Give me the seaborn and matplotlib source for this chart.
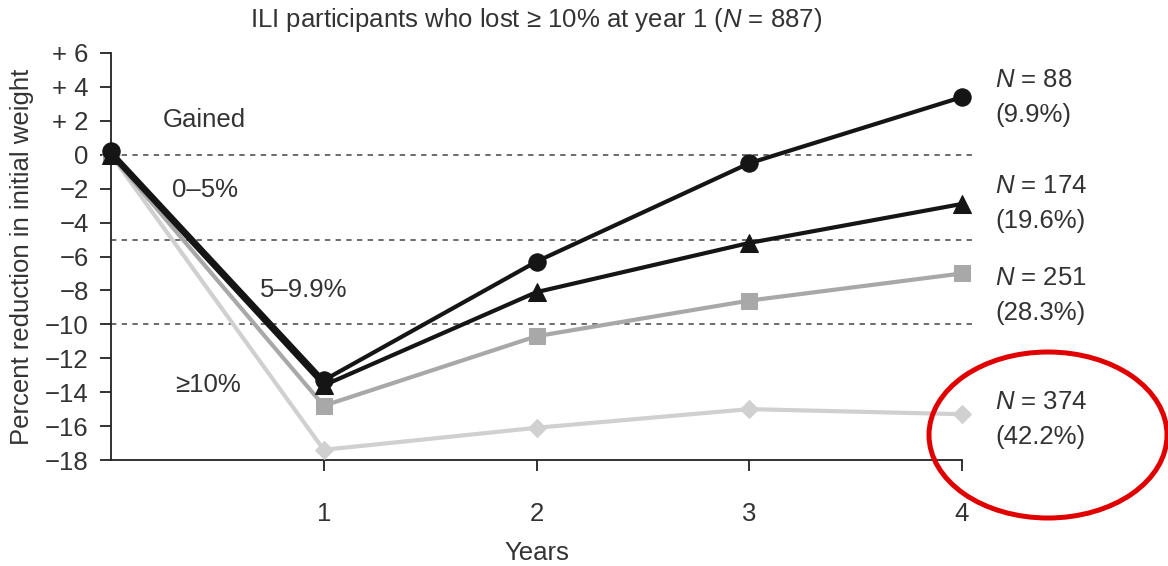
import numpy as np
import pandas as pd
import matplotlib
matplotlib.use("Agg")
import matplotlib.pyplot as plt
import seaborn as sns
from matplotlib.patches import Ellipse

# Data
years = [0, 1, 2, 3, 4]
gained = [0.2, -13.3, -6.3, -0.5, 3.4]
lost_0_5 = [0.0, -13.6, -8.1, -5.2, -2.9]
lost_5_10 = [0.0, -14.8, -10.7, -8.6, -7.0]
lost_10 = [0.0, -17.4, -16.1, -15.0, -15.3]

group_names = ["Gained", "0-5%", "5-9.9%", ">=10%"]
group_n = [88, 174, 251, 374]
group_pct = ["9.9%", "19.6%", "28.3%", "42.2%"]

zone_labels = ["Gained", "0–5%", "5–9.9%", "≥10%"]
zone_cuts = [0, -5, -10]

y_ticks = [6, 4, 2, 0, -2, -4, -6, -8, -10, -12, -14, -16, -18]
y_tick_labels = ["+ 6", "+ 4", "+ 2", "0", "−2", "−4", "−6", "−8", "−10",
                 "−12", "−14", "−16", "−18"]
x_ticks = [1, 2, 3, 4]

df = pd.DataFrame({
    "year": years * 4,
    "change": gained + lost_0_5 + lost_5_10 + lost_10,
    "group": np.repeat(group_names, len(years)),
})

sns.set_style("ticks")
plt.rcParams["font.family"] = ["Liberation Sans", "DejaVu Sans"]
plt.rcParams["mathtext.fontset"] = "custom"
plt.rcParams["mathtext.it"] = "Liberation Sans:italic"
plt.rcParams["mathtext.rm"] = "Liberation Sans"

txt = "#333333"
fs = 18.5
fig = plt.figure(figsize=(11.68, 5.66), dpi=100)
ax = fig.add_axes([111 / 1168, 1 - 460 / 566, (962 - 111) / 1168, (460 - 53) / 566])

styles = {
    "Gained": dict(color="#151515", marker="o", ms=12.5),
    "0-5%": dict(color="#151515", marker="^", ms=13.5),
    "5-9.9%": dict(color="#a8a8a8", marker="s", ms=11.5),
    ">=10%": dict(color="#d0d0d0", marker="D", ms=9.5),
}
order = [">=10%", "5-9.9%", "0-5%", "Gained"]
for g in order:
    st = styles[g]
    sns.lineplot(data=df[df["group"] == g], x="year", y="change", ax=ax,
                 color=st["color"], marker=st["marker"], markersize=st["ms"],
                 markeredgecolor=st["color"], linewidth=3.0, clip_on=False,
                 zorder=3, errorbar=None)

for c in zone_cuts:
    ax.hlines(c, 0, 4.06, colors="#444444", linestyles=(0, (3.5, 3.5)),
              linewidth=1.1, clip_on=False, zorder=1)

ax.set_xlim(0, 4)
ax.set_ylim(-18, 6)
ax.set_yticks(y_ticks)
ax.set_yticklabels(y_tick_labels)
ax.set_xticks(x_ticks)
ax.tick_params(axis="both", labelsize=fs, colors="#222222", labelcolor=txt,
               length=8, width=1.3)
ax.tick_params(axis="x", pad=22)
ax.tick_params(axis="y", pad=8)
for s in ["left", "bottom"]:
    ax.spines[s].set_linewidth(1.3)
    ax.spines[s].set_color("#222222")
sns.despine(ax=ax)

ax.set_xlabel("Years", fontsize=fs, color=txt, va="center")
ax.xaxis.set_label_coords(0.5, -(553 - 460) / 407)
ax.set_ylabel("Percent reduction in initial weight", fontsize=fs, color=txt,
              va="center")
ax.yaxis.set_label_coords(-(111 - 22) / 851, 0.5)
ax.set_title(r"ILI participants who lost ≥ 10% at year 1 ($N$ = 887)",
             fontsize=fs, color=txt, y=1 + (53 - 20) / 407, va="center", pad=0)

zone_pos = [(0.245, 2.07), (0.287, -2.07), (0.70, -7.97), (0.30, -13.58)]
for lab, (x, y) in zip(zone_labels, zone_pos):
    ax.text(x, y, lab, fontsize=fs, color=txt, va="center", ha="left")

label_y = [4.43, -1.85, -7.25, -14.6]
for n, p, y in zip(group_n, group_pct, label_y):
    ax.text(4.155, y, rf"$N$ = {n}", fontsize=fs, color=txt, va="center",
            ha="left", clip_on=False)
    ax.text(4.155, y - 2.07, f"({p})", fontsize=fs, color=txt, va="center",
            ha="left", clip_on=False)

fig.add_artist(Ellipse((1048 / 1168, 1 - 435 / 566), 238 / 1168, 166 / 566,
                       transform=fig.transFigure, fill=False,
                       edgecolor="#e00000", linewidth=3.6))

fig.savefig("out.png", dpi=100)
